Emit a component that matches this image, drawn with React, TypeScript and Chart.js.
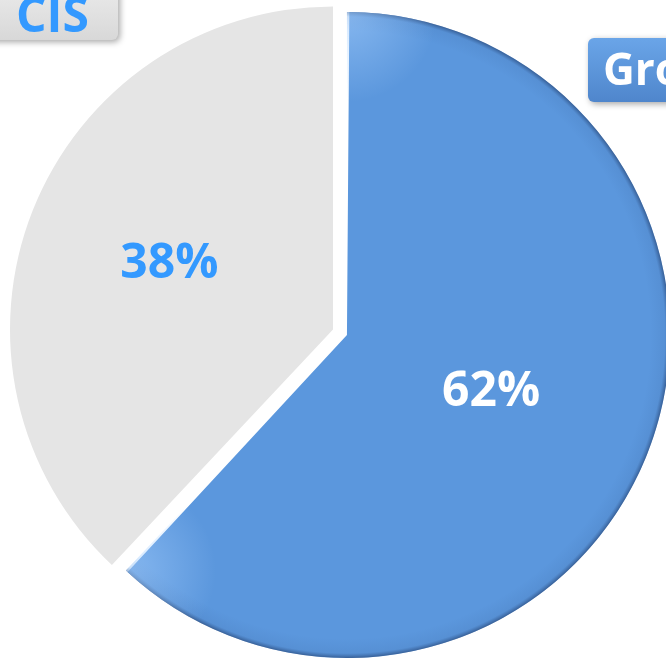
import React, { useEffect, useRef } from "react";
import { Chart, registerables } from "chart.js";

Chart.register(...registerables);

const categories = ["Group", "CIS"];
const shares = [62, 38];
const sliceColors = ["#5b97dd", "#e5e5e5"];
const labelColors = ["#ffffff", "#3399ff"];
const sliceOffsets = [60, 0];
const labelRadii = [0.48, 0.545];

const BASE_RADIUS = 323;

const labelsPlugin = {
  id: "sliceLabels",
  beforeDatasetsDraw(chart: any) {
    // Chart.js grows an exploded slice by its shift; keep every slice the same size
    const meta = chart.getDatasetMeta(0);
    meta.data.forEach((arc: any, i: number) => {
      const shift = sliceOffsets[i] / 4;
      const circ = arc.endAngle - arc.startAngle;
      const fix = 1 - Math.sin(Math.min(Math.PI, circ));
      arc.outerRadius = BASE_RADIUS - shift * fix;
    });
  },
  afterDatasetsDraw(chart: any) {
    const ctx = chart.ctx as CanvasRenderingContext2D;
    const meta = chart.getDatasetMeta(0);
    const total = shares.reduce((a, b) => a + b, 0);
    meta.data.forEach((arc: any, i: number) => {
      const mid = (arc.startAngle + arc.endAngle) / 2;
      const shift = sliceOffsets[i] / 4;
      const cx = arc.x + Math.cos(mid) * shift;
      const cy = arc.y + Math.sin(mid) * shift;
      const r = BASE_RADIUS;
      if (i === 0) {
        ctx.save();
        ctx.beginPath();
        ctx.moveTo(cx, cy);
        ctx.arc(cx, cy, r, arc.startAngle, arc.endAngle);
        ctx.closePath();
        ctx.clip();
        const g = ctx.createRadialGradient(cx, cy, r * 0.94, cx, cy, r);
        g.addColorStop(0, "rgba(30,60,110,0)");
        g.addColorStop(0.75, "rgba(30,60,110,0.08)");
        g.addColorStop(1, "rgba(20,40,80,0.5)");
        ctx.fillStyle = g;
        ctx.fillRect(cx - r, cy - r, 2 * r, 2 * r);
        // soft highlight near the outer ends of the straight edges
        const edges = [arc.startAngle, arc.endAngle];
        edges.forEach((a) => {
          const ex = cx + Math.cos(a) * r;
          const ey = cy + Math.sin(a) * r;
          const hg = ctx.createRadialGradient(ex, ey, 0, ex, ey, 90);
          hg.addColorStop(0, "rgba(170,210,255,0.55)");
          hg.addColorStop(1, "rgba(170,210,255,0)");
          ctx.fillStyle = hg;
          ctx.fillRect(ex - 90, ey - 90, 180, 180);
        });
        ctx.restore();
      }
      const lx = cx + Math.cos(mid) * r * labelRadii[i];
      const ly = cy + Math.sin(mid) * r * labelRadii[i];
      ctx.save();
      ctx.font = "bold 48px 'Open Sans', sans-serif";
      ctx.textAlign = "center";
      ctx.textBaseline = "middle";
      ctx.fillStyle = labelColors[i];
      ctx.fillText(Math.round((shares[i] / total) * 100) + "%", lx, ly);
      ctx.restore();
    });

    const area = chart.chartArea;
    const drawBox = (x: number, y: number, w: number, h: number, fill1: string, fill2: string, text: string, color: string, tx: number, ty: number, size: number) => {
      ctx.save();
      ctx.shadowColor = "rgba(0,0,0,0.35)";
      ctx.shadowBlur = 6;
      ctx.shadowOffsetX = 2;
      ctx.shadowOffsetY = 2;
      const g = ctx.createLinearGradient(0, y, 0, y + h);
      g.addColorStop(0, fill1);
      g.addColorStop(1, fill2);
      ctx.fillStyle = g;
      ctx.beginPath();
      (ctx as any).roundRect(x, y, w, h, 6);
      ctx.fill();
      ctx.restore();
      ctx.save();
      ctx.font = `bold ${size}px 'Open Sans', sans-serif`;
      ctx.textAlign = "left";
      ctx.textBaseline = "alphabetic";
      ctx.fillStyle = color;
      ctx.fillText(text, tx, ty);
      ctx.restore();
    };
    drawBox(area.left - 20, area.top - 30, 138, 70, "#f0f0f0", "#d8d8d8", categories[1], "#3399ff", area.left + 16, area.top + 32, 48);
    drawBox(area.right - 78, area.top + 38, 130, 64, "#6aa5e8", "#4f86cc", categories[0], "#ffffff", area.right - 63, area.top + 85, 44);
  },
};

export default function App() {
  const ref = useRef<HTMLCanvasElement>(null);
  useEffect(() => {
    document.body.style.margin = "0";
    const chart = new Chart(ref.current!, {
      type: "pie",
      data: {
        labels: categories,
        datasets: [
          {
            data: shares,
            backgroundColor: sliceColors,
            borderWidth: 0,
            offset: sliceOffsets,
          },
        ],
      },
      options: {
        animation: false,
        responsive: false,
        radius: BASE_RADIUS,
        layout: { padding: 0 },
        plugins: { legend: { display: false }, tooltip: { enabled: false } },
      },
      plugins: [labelsPlugin],
    });
    return () => chart.destroy();
  }, []);
  return (
    <div style={{ position: "fixed", left: 0, top: 0, width: 666, height: 659, overflow: "hidden", background: "#fff" }}>
      <canvas ref={ref} width={666} height={659} style={{ display: "block" }} />
    </div>
  );
}
